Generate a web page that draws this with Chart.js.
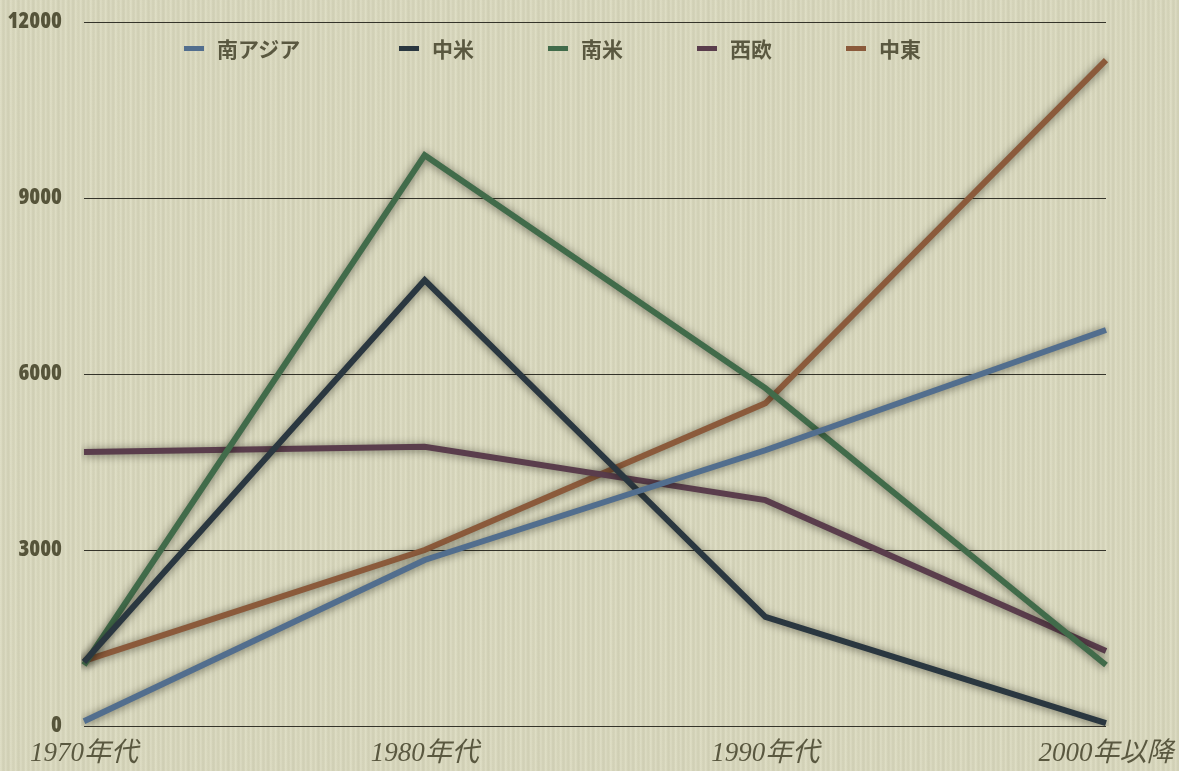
<!DOCTYPE html>
<html>
<head>
<meta charset="utf-8">
<script src="https://cdn.jsdelivr.net/npm/chart.js@4"></script>
<style>
  html, body {
    margin: 0;
    padding: 0;
  }
  body {
    width: 1179px;
    height: 771px;
    overflow: hidden;
    background-color: #d9d8be;
    background-image:
      repeating-linear-gradient(90deg, rgba(255,255,240,0.14) 0px, rgba(255,255,240,0.14) 1px, rgba(0,0,0,0) 2px, rgba(120,120,90,0.07) 3px, rgba(0,0,0,0) 5px),
      repeating-linear-gradient(90deg, rgba(0,0,0,0) 0px, rgba(130,130,100,0.06) 7px, rgba(0,0,0,0) 13px);
  }
  #wrap {
    position: relative;
    width: 1179px;
    height: 771px;
  }
  #legend {
    position: absolute;
    top: 34px;
    left: 184px;
    display: flex;
    font-family: "Noto Sans CJK JP", "Noto Sans", sans-serif;
    font-weight: 700;
    font-size: 21px;
    color: #5a5840;
  }
  .item {
    display: flex;
    align-items: center;
    width: 149px;
    height: 28px;
  }
  .item:first-child {
    width: 215px;
  }
  .swatch {
    width: 20px;
    height: 5px;
    margin-right: 13px;
  }
</style>
</head>
<body>
<div id="wrap">
  <canvas id="line-chart" width="1179" height="771"></canvas>
  <div id="legend"></div>
</div>
<script>
var periods = ["1970年代", "1980年代", "1990年代", "2000年以降"];
var regions = ["南アジア", "中米", "南米", "西欧", "中東"];
var southAsia = [80, 2830, 4700, 6750];
var centralAmerica = [1090, 7600, 1860, 50];
var southAmerica = [1040, 9730, 5760, 1040];
var westernEurope = [4670, 4760, 3850, 1280];
var middleEast = [1110, 3000, 5500, 11350];
var yTicks = [0, 3000, 6000, 9000, 12000];
var lineColors = ["#526e8e", "#2a3740", "#416b4a", "#5a3d4c", "#8b5a3b"];

var seriesValues = [southAsia, centralAmerica, southAmerica, westernEurope, middleEast];

// build datasets from the arrays above
var datasets = [];
for (var i = 0; i < regions.length; i++) {
  datasets.push({
    label: regions[i],
    data: seriesValues[i],
    borderColor: lineColors[i],
    backgroundColor: lineColors[i],
    borderWidth: 6,
    borderCapStyle: "butt",
    pointRadius: 0,
    pointHoverRadius: 0,
    tension: 0,
    fill: false
  });
}

// soft drop shadow under each line
var lineShadow = {
  id: "lineShadow",
  beforeDatasetDraw: function (chart) {
    var ctx = chart.ctx;
    ctx.save();
    ctx.shadowColor = "rgba(20, 20, 10, 0.55)";
    ctx.shadowBlur = 8;
    ctx.shadowOffsetX = 0;
    ctx.shadowOffsetY = 1;
  },
  afterDatasetDraw: function (chart) {
    chart.ctx.restore();
  }
};

var ctx = document.getElementById("line-chart").getContext("2d");
var lineChart = new Chart(ctx, {
  type: "line",
  data: {
    labels: periods,
    datasets: datasets
  },
  options: {
    responsive: false,
    animation: false,
    layout: {
      padding: { top: 22, right: 73, left: 0, bottom: 0 }
    },
    plugins: {
      legend: { display: false },
      tooltip: { enabled: false }
    },
    scales: {
      x: {
        offset: false,
        grid: { display: false },
        border: { display: false },
        ticks: {
          color: "#5a5840",
          padding: 4,
          maxRotation: 0,
          autoSkip: false,
          font: { family: "'Liberation Serif', 'Noto Sans CJK JP', serif", style: "italic", size: 27 }
        },
        afterFit: function (scale) {
          scale.height = 45;
        }
      },
      y: {
        min: 0,
        max: 12000,
        afterBuildTicks: function (scale) {
          scale.ticks = yTicks.map(function (v) { return { value: v }; });
        },
        grid: {
          color: "#35342a",
          lineWidth: 1,
          drawTicks: false
        },
        border: { display: false },
        ticks: {
          color: "#56543a",
          padding: 22,
          callback: function (value) {
            return String(value);
          },
          font: { family: "'Open Sans', 'DejaVu Sans', sans-serif", weight: "800 condensed", size: 22 }
        },
        afterFit: function (scale) {
          scale.width = 84;
          scale.paddingTop = 0;
        }
      }
    }
  },
  plugins: [lineShadow]
});

// legend row drawn as html
var legend = document.getElementById("legend");
for (var j = 0; j < regions.length; j++) {
  var item = document.createElement("div");
  item.className = "item";
  var swatch = document.createElement("span");
  swatch.className = "swatch";
  swatch.style.background = lineColors[j];
  var text = document.createElement("span");
  text.textContent = regions[j];
  item.appendChild(swatch);
  item.appendChild(text);
  legend.appendChild(item);
}
</script>
</body>
</html>
